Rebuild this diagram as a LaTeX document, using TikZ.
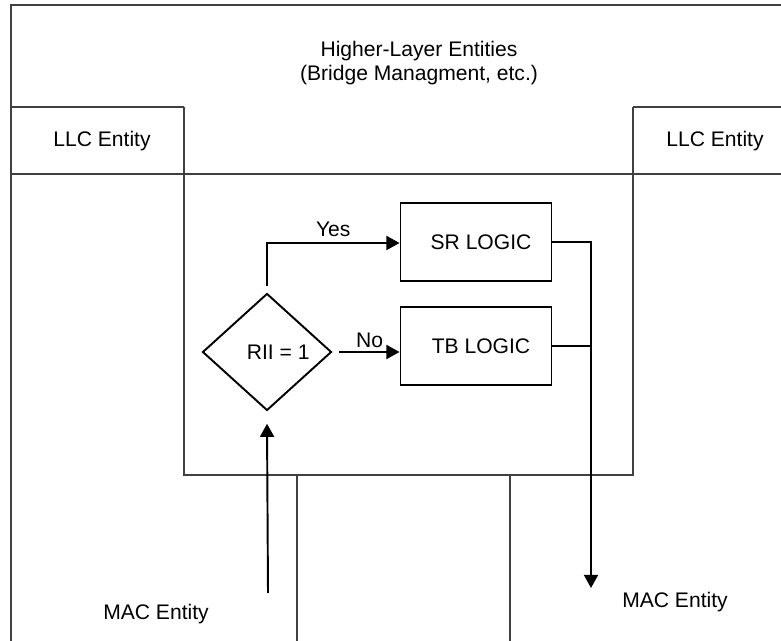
\documentclass[tikz,border=0pt]{standalone}
\usepackage{fontspec}
\setmainfont{Liberation Sans}
\usetikzlibrary{shapes.geometric,arrows.meta}
\begin{document}
\begin{tikzpicture}[x=0.02cm,y=-0.02cm]
    \tikzset{
        frame/.style={draw=black!75, line width=0.6pt},
        txt/.style={font=\fontsize{12}{14}\selectfont, align=center, inner sep=0pt},
        logic/.style={draw, line width=1.1pt, minimum width=3.02cm, minimum height=1.56cm, font=\fontsize{12}{14}\selectfont},
        decision/.style={draw, diamond, line width=1.1pt, minimum width=2.58cm, minimum height=2.34cm, inner sep=0pt, font=\fontsize{12}{14}\selectfont},
        flow/.style={line width=1.1pt, -{Triangle[length=7.5pt,width=8pt]}}
    }
    \useasboundingbox (0,0) rectangle (781,641);

    \draw[frame] (11,641) |- (781,5);
    \draw[frame] (11,107) -- (184,107);
    \draw[frame] (633,107) -- (781,107);
    \draw[frame] (11,174) -- (781,174);
    \draw[frame] (184,107) |- (633,475) -- (633,107);
    \foreach \x in {297,510}{
        \draw[frame] (\x,475) -- (\x,641);
    }

    \draw node[txt] (hle) at (419,63) {Higher-Layer Entities\\(Bridge Managment, etc.)};
    \draw node[txt] (llcl) at (102,141) {LLC Entity};
    \draw node[txt] (llcr) at (715,141) {LLC Entity};
    \draw node[txt] (macl) at (156,614) {MAC Entity};
    \draw node[txt] (macr) at (675,602) {MAC Entity};

    \draw node[decision] (rii) at (267,352) {\hspace{0.45cm}RII = 1};
    \draw node[logic] (sr) at (476,242) {\hspace{0.2cm}SR LOGIC};
    \draw node[logic] (tb) at (476,346) {\hspace{0.2cm}TB LOGIC};

    \coordinate (macin) at (268,593);
    \coordinate (macout) at (591,588);

    \draw[flow] ([yshift=4pt]rii.north) |- node[txt, pos=0.75, above=3pt] {Yes} (sr.west |- 0,243);
    \draw[flow] ([xshift=4pt]rii.east) -- node[txt, above=2pt] {No} (rii.east -| tb.west);
    \draw[flow] (macin) -- ([yshift=-7pt]rii.south);
    \draw[flow] (sr.east) -| (macout);
    \draw[line width=1.1pt] (tb.east) -- (tb.east -| macout);
\end{tikzpicture}
\end{document}
